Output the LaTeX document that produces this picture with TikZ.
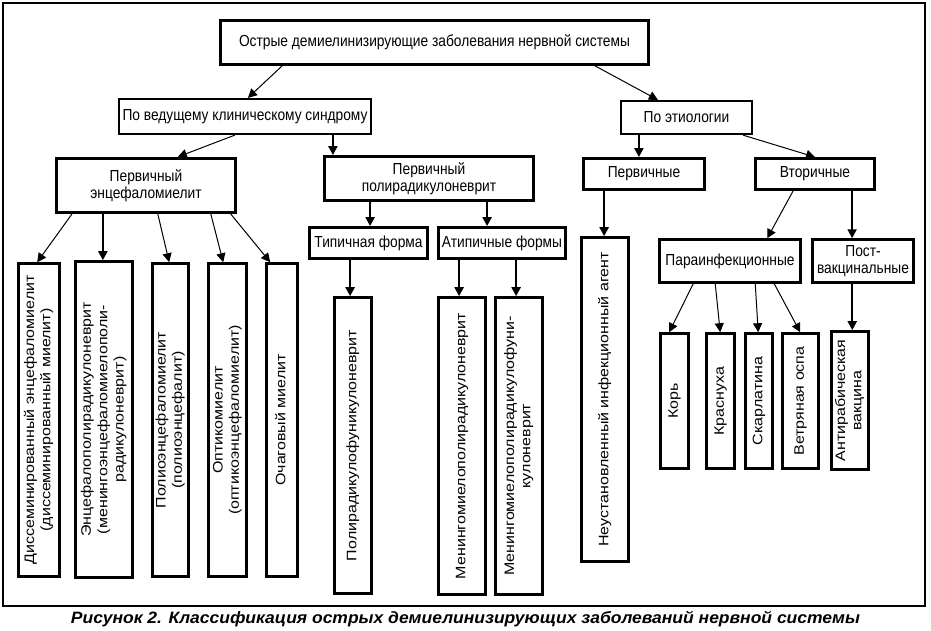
\documentclass[tikz,border=0pt]{standalone}
\usepackage{fontspec}
\setmainfont{Liberation Sans}
\newfontfamily\hfont{Liberation Sans}[FakeStretch=0.86]
\usetikzlibrary{arrows.meta,calc}
\tikzset{
  bx/.style={draw, line width=2.8pt, inner sep=0pt, align=center,
    font=\hfont\fontsize{16}{17}\selectfont},
  bxm/.style={bx, line width=2.2pt},
  leaf/.style={draw, line width=2.6pt, inner sep=0pt},
  arr/.style={-{Triangle[length=9pt,width=9pt]}, line width=1pt},
  varr/.style={arr, line width=2pt},
  frame/.style={line width=1.3pt},
}
\newcommand\vt[1]{\rotatebox{90}{\scalebox{1}[0.86]{\fontsize{16}{19}\selectfont\begin{tabular}{@{}c@{}}#1\end{tabular}}}}
\begin{document}
\begin{tikzpicture}[x=1pt,y=-1pt]
\useasboundingbox (0,0) rectangle (931,631);
\draw[frame] (3,3) rectangle (925,606);

% level 1-2
\node[bx, minimum width=428pt, minimum height=44pt] (top) at (434.5,42.5) {Острые демиелинизирующие заболевания нервной системы};
\node[bxm, minimum width=252pt, minimum height=35pt] (synd) at (245,116.5) {По ведущему клиническому синдрому};
\node[bxm, minimum width=131pt, minimum height=33pt] (etio) at (686.5,117.5) {По этиологии};

% level 3
\node[bx, line width=3.3pt, minimum width=179pt, minimum height=54pt] (enc) at (146,185.5) {Первичный\\энцефаломиелит};
\node[bx, minimum width=209pt, minimum height=44pt] (poly) at (429,178.5) {Первичный\\полирадикулоневрит};
\node[bx, minimum width=121pt, minimum height=31pt] (prim) at (644,174) {Первичные};
\node[bx, minimum width=119pt, minimum height=31pt] (sec) at (815,174) {Вторичные};

% level 4
\node[bx, minimum width=118pt, minimum height=31pt] (typ) at (368.5,243) {Типичная форма};
\node[bx, minimum width=127pt, minimum height=31pt] (atyp) at (502,243) {Атипичные формы};
\node[bx, line width=2.5pt, minimum width=141pt, minimum height=43pt] (para) at (730,261) {Параинфекционные};
\node[bx, line width=2.5pt, minimum width=101pt, minimum height=43pt] (post) at (863,261) {Пост-\\вакцинальные};

% leaves left
\node[leaf, minimum width=41pt, minimum height=313pt] (L1) at (39,420) {\vt{Диссеминированный энцефаломиелит\\(диссеминированный миелит)}};
\node[leaf, minimum width=57pt, minimum height=316pt] (L2) at (104,419.5) {\vt{Энцефалополирадикулоневрит\\(менингоэнцефаломиелополи-\\радикулоневрит)}};
\node[leaf, minimum width=36pt, minimum height=313pt] (L3) at (170.5,420) {\vt{Полиоэнцефаломиелит\\(полиоэнцефалит)}};
\node[leaf, minimum width=38pt, minimum height=313pt] (L4) at (227.5,420) {\vt{Оптикомиелит\\(оптикоэнцефаломиелит)}};
\node[leaf, minimum width=31pt, minimum height=313pt] (L5) at (282,420) {\vt{Очаговый миелит}};

% leaves middle
\node[leaf, minimum width=37pt, minimum height=296pt] (M1) at (353,445.5) {\vt{Полирадикулофуникулоневрит}};
\node[leaf, minimum width=47pt, minimum height=297pt] (M2) at (462,446) {\vt{Менингомиелополирадикулоневрит}};
\node[leaf, minimum width=47pt, minimum height=297pt] (M3) at (519,446) {\vt{Менингомиелополирадикулофуни-\\кулоневрит}};
\node[leaf, minimum width=47pt, minimum height=324pt] (N) at (605,399.5) {\vt{Неустановленный инфекционный агент}};

% leaves right
\node[leaf, minimum width=28pt, minimum height=135pt] (R1) at (674.5,401) {\vt{Корь}};
\node[leaf, minimum width=28pt, minimum height=135pt] (R2) at (720.5,401) {\vt{Краснуха}};
\node[leaf, minimum width=27pt, minimum height=135pt] (R3) at (759,401) {\vt{Скарлатина}};
\node[leaf, minimum width=36pt, minimum height=135pt] (R4) at (800.5,401) {\vt{Ветряная оспа}};
\node[leaf, minimum width=37pt, minimum height=138pt] (R5) at (850,400.5) {\vt{Антирабическая\\вакцина}};

% connectors
\draw[arr] ([xshift=63pt]top.south west) -- ([xshift=130pt]synd.north west);
\draw[arr] ([xshift=376pt]top.south west) -- ([xshift=38pt]etio.north west);
\draw[arr] ([xshift=117pt]synd.south west) -- ([xshift=123pt]enc.north west);
\draw[varr] ([xshift=215pt]synd.south west) -- ([xshift=215pt]synd.south west |- poly.north);
\draw[varr] ([xshift=19pt]etio.south west) -- ([xshift=19pt]etio.south west |- prim.north);
\draw[arr] ([xshift=123pt]etio.south west) -- ([xshift=61pt]sec.north west);

\draw[arr] ([xshift=17pt]enc.south west) -- ([xshift=20pt]L1.north west);
\draw[arr, line width=2.6pt] ([xshift=48pt]enc.south west) -- ([xshift=48pt]enc.south west |- L2.north);
\draw[arr] ([xshift=103pt]enc.south west) -- ([xshift=18pt]L3.north west);
\draw[arr] ([xshift=156pt]enc.south west) -- ([xshift=16pt]L4.north west);
\draw[arr] ([xshift=176pt]enc.south west) -- ([xshift=5pt]L5.north west);

\draw[varr, line width=2.4pt] ([xshift=47pt]poly.south west) -- ([xshift=47pt]poly.south west |- typ.north);
\draw[varr, line width=2.4pt] ([xshift=164pt]poly.south west) -- ([xshift=164pt]poly.south west |- atyp.north);
\draw[varr, line width=2.4pt] ([xshift=42pt]typ.south west) -- ([xshift=42pt]typ.south west |- M1.north);
\draw[varr, line width=2.4pt] ([xshift=22pt]atyp.south west) -- ([xshift=22pt]atyp.south west |- M2.north);
\draw[varr, line width=2.4pt] ([xshift=79pt]atyp.south west) -- ([xshift=79pt]atyp.south west |- M3.north);
\draw[varr, line width=2.4pt] ([xshift=22pt]prim.south west) -- ([xshift=22pt]prim.south west |- N.north);

\draw[arr] ([xshift=39pt]sec.south west) -- ([xshift=109pt]para.north west);
\draw[varr] ([xshift=98pt]sec.south west) -- ([xshift=98pt]sec.south west |- post.north);

\draw[arr] ([xshift=35pt]para.south west) -- ([xshift=10pt]R1.north west);
\draw[arr] ([xshift=57pt]para.south west) -- ([xshift=15pt]R2.north west);
\draw[arr] ([xshift=97pt]para.south west) -- ([xshift=14pt]R3.north west);
\draw[arr] ([xshift=116pt]para.south west) -- ([xshift=19pt]R4.north west);
\draw[varr] ([xshift=41pt]post.south west) -- ([xshift=41pt]post.south west |- R5.north);

% caption
\node[anchor=base, inner sep=0pt] (cap) at (465.5,623.3) {\resizebox{789pt}{12.3pt}{\bfseries\itshape Рисунок 2. Классификация острых демиелинизирующих заболеваний нервной системы}};
\end{tikzpicture}
\end{document}
